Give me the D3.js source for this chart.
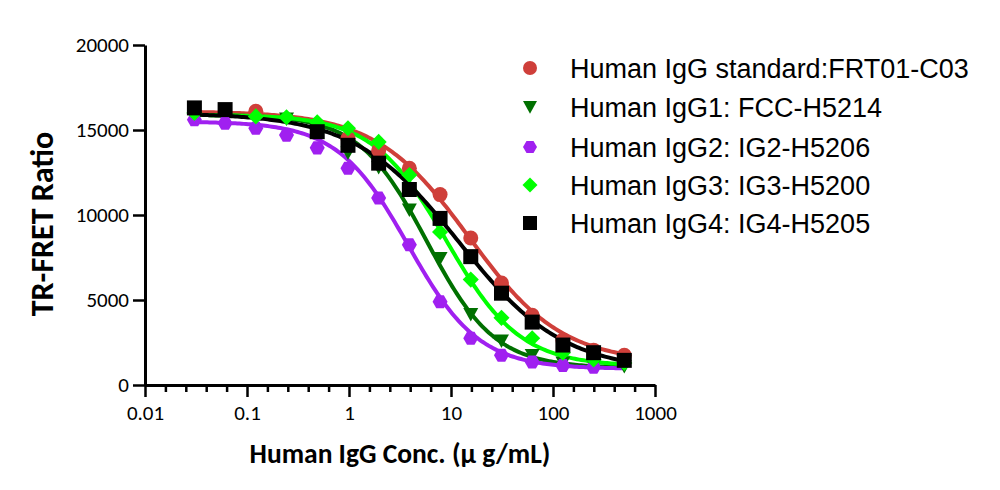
<!DOCTYPE html>
<html>
<head>
<meta charset="utf-8">
<script src="https://cdn.jsdelivr.net/npm/d3@7"></script>
<style>
  html, body { margin: 0; padding: 0; background: #fff; }
  svg { display: block; }
</style>
</head>
<body>
<svg id="chart" width="1000" height="490"></svg>
<script>
// ---------------- DATA ----------------
const concentrations = [0.0305, 0.061, 0.122, 0.244, 0.488, 0.977, 1.953, 3.906, 7.8125, 15.625, 31.25, 62.5, 125, 250, 500];

const seriesNames = [
  "Human IgG standard:FRT01-C03",
  "Human IgG1: FCC-H5214",
  "Human IgG2: IG2-H5206",
  "Human IgG3: IG3-H5200",
  "Human IgG4: IG4-H5205"
];

const stdValues  = [null, null, 16100, null, null, 14500, 13800, 12750, 11200, 8650, 6000, 4100, 2650, 2050, 1750];
const igg1Values = [null, null, null, 15650, null, 13650, 12800, 10300, 7450, 4150, 2600, 1750, 1300, 1150, 1100];
const igg2Values = [15600, 15400, 15100, 14700, 13950, 12750, 11000, 8250, 4900, 2750, 1750, 1350, 1150, 1050, null];
const igg3Values = [16000, null, 15800, 15750, 15450, 15100, 14300, 12350, 9000, 6200, 3950, 2750, 1900, 1500, 1300];
const igg4Values = [16300, 16200, null, null, 14900, 14100, 13050, 11500, 9800, 7550, 5400, 3700, 2350, 1900, 1450];

// four-parameter logistic fit parameters
const fitTop    = [16100, 15900, 15500, 15900, 16000];
const fitBottom = [1300, 1000, 950, 1100, 800];
const fitEC50   = [15, 5.8, 3.8, 9, 12];
const fitHill   = [0.95, 1.3, 1.25, 1.2, 0.85];

const xTickValues = [0.01, 0.1, 1, 10, 100, 1000];
const xTickLabels = ["0.01", "0.1", "1", "10", "100", "1000"];
const yTickValues = [0, 5000, 10000, 15000, 20000];
const yTickLabels = ["0", "5000", "10000", "15000", "20000"];

const xTitle = "Human IgG Conc. (\u03bc g/mL)";
const yTitle = "TR-FRET Ratio";

// ---------------- STYLE ----------------
const colors  = ["#CF3F3A", "#007000", "#A020F0", "#00FF00", "#000000"];
const symbols = ["circle", "triangleDown", "hexagon", "diamond", "square"];
const allValues = [stdValues, igg1Values, igg2Values, igg3Values, igg4Values];

const svg = d3.select("#chart");
svg.append("rect").attr("width", 1000).attr("height", 490).attr("fill", "#fff");

const x = d3.scaleLog().domain([0.01, 1000]).range([145, 655]);
const y = d3.scaleLinear().domain([0, 20000]).range([385, 45]);

function symbolPath(type, s) {
  switch (type) {
    case "triangleDown":
      return `M${-s},${-s * 0.85}L${s},${-s * 0.85}L0,${s * 0.95}Z`;
    case "hexagon": {
      const w = s, h = s * 0.87;
      return `M${-w},0L${-w / 2},${-h}L${w / 2},${-h}L${w},0L${w / 2},${h}L${-w / 2},${h}Z`;
    }
    case "diamond":
      return `M0,${-s * 1.15}L${s * 1.15},0L0,${s * 1.15}L${-s * 1.15},0Z`;
    case "square":
      return `M${-s},${-s}L${s},${-s}L${s},${s}L${-s},${s}Z`;
  }
  return "";
}

function drawSymbol(g, type, cx, cy, color, s) {
  if (type === "circle") {
    g.append("circle").attr("cx", cx).attr("cy", cy).attr("r", s).attr("fill", color);
  } else {
    g.append("path").attr("d", symbolPath(type, s))
      .attr("transform", `translate(${cx},${cy})`).attr("fill", color);
  }
}

// ---------------- AXES ----------------
const fontTick = "Carlito, Lato, 'Open Sans', sans-serif";

// minor x ticks (5 log-spaced intervals per decade)
const minorVals = [];
for (let e = -2; e < 3; e++) for (let k = 1; k < 5; k++) minorVals.push(Math.pow(10, e + k / 5));

const xMinor = svg.append("g").attr("transform", "translate(0,385)")
  .call(d3.axisBottom(x).tickValues(minorVals).tickSize(7).tickSizeOuter(0).tickFormat(""));
xMinor.select(".domain").remove();
xMinor.selectAll("line").attr("stroke", "#000").attr("stroke-width", 2.5);

const xAxis = svg.append("g").attr("transform", "translate(0,385)")
  .call(d3.axisBottom(x).tickValues(xTickValues).tickFormat((d, i) => xTickLabels[i])
    .tickSize(12).tickSizeOuter(0).tickPadding(8));
xAxis.select(".domain").attr("stroke", "#000").attr("stroke-width", 3);
xAxis.selectAll("line").attr("stroke", "#000").attr("stroke-width", 2.5);
xAxis.selectAll("text").attr("font-family", fontTick).attr("font-size", 21).attr("fill", "#000");

const yAxis = svg.append("g").attr("transform", "translate(145,0)")
  .call(d3.axisLeft(y).tickValues(yTickValues).tickFormat((d, i) => yTickLabels[i])
    .tickSize(12).tickSizeOuter(0).tickPadding(4));
yAxis.select(".domain").attr("stroke", "#000").attr("stroke-width", 3);
yAxis.selectAll("line").attr("stroke", "#000").attr("stroke-width", 2.5);
yAxis.selectAll("text").attr("font-family", fontTick).attr("font-size", 21).attr("fill", "#000");

// titles
svg.append("text").text(xTitle)
  .attr("x", 400).attr("y", 463).attr("text-anchor", "middle")
  .attr("font-family", "Carlito, Lato, sans-serif").attr("font-weight", "bold")
  .attr("font-size", 27.5).attr("fill", "#000");

svg.append("text").text(yTitle)
  .attr("transform", "translate(53,224) rotate(-90)").attr("text-anchor", "middle")
  .attr("font-family", "Carlito, Lato, sans-serif").attr("font-weight", "bold")
  .attr("font-size", 32).attr("fill", "#000");

// ---------------- CURVES ----------------
const xMin = d3.min(concentrations), xMax = d3.max(concentrations);
const curveX = d3.range(0, 201).map(i => Math.pow(10, Math.log10(xMin) + i / 200 * (Math.log10(xMax) - Math.log10(xMin))));
const line = d3.line().x(d => x(d[0])).y(d => y(d[1])).curve(d3.curveLinear);

const curvesG = svg.append("g");
allValues.forEach((vals, s) => {
  const pts = curveX.map(c => [c, fitBottom[s] + (fitTop[s] - fitBottom[s]) / (1 + Math.pow(c / fitEC50[s], fitHill[s]))]);
  curvesG.append("path").datum(pts).attr("d", line)
    .attr("fill", "none").attr("stroke", colors[s]).attr("stroke-width", 4)
    .attr("stroke-linejoin", "round").attr("stroke-linecap", "round");
});

// ---------------- POINTS ----------------
const pointsG = svg.append("g");
const sizes = [7.5, 7.5, 7.5, 7, 7.5];
allValues.forEach((vals, s) => {
  vals.forEach((v, i) => {
    if (v == null) return;
    drawSymbol(pointsG, symbols[s], x(concentrations[i]), y(v), colors[s], sizes[s]);
  });
});

// ---------------- LEGEND ----------------
const legendY = [68, 107, 147, 185, 223];
const legendG = svg.append("g");
seriesNames.forEach((name, s) => {
  drawSymbol(legendG, symbols[s], 530, legendY[s], colors[s], s === 3 ? 6.5 : 7);
  legendG.append("text").text(name)
    .attr("x", 570).attr("y", legendY[s] + 9.5)
    .attr("font-family", "'Liberation Sans', Arial, sans-serif")
    .attr("font-size", 27).attr("fill", "#000");
});
</script>
</body>
</html>
